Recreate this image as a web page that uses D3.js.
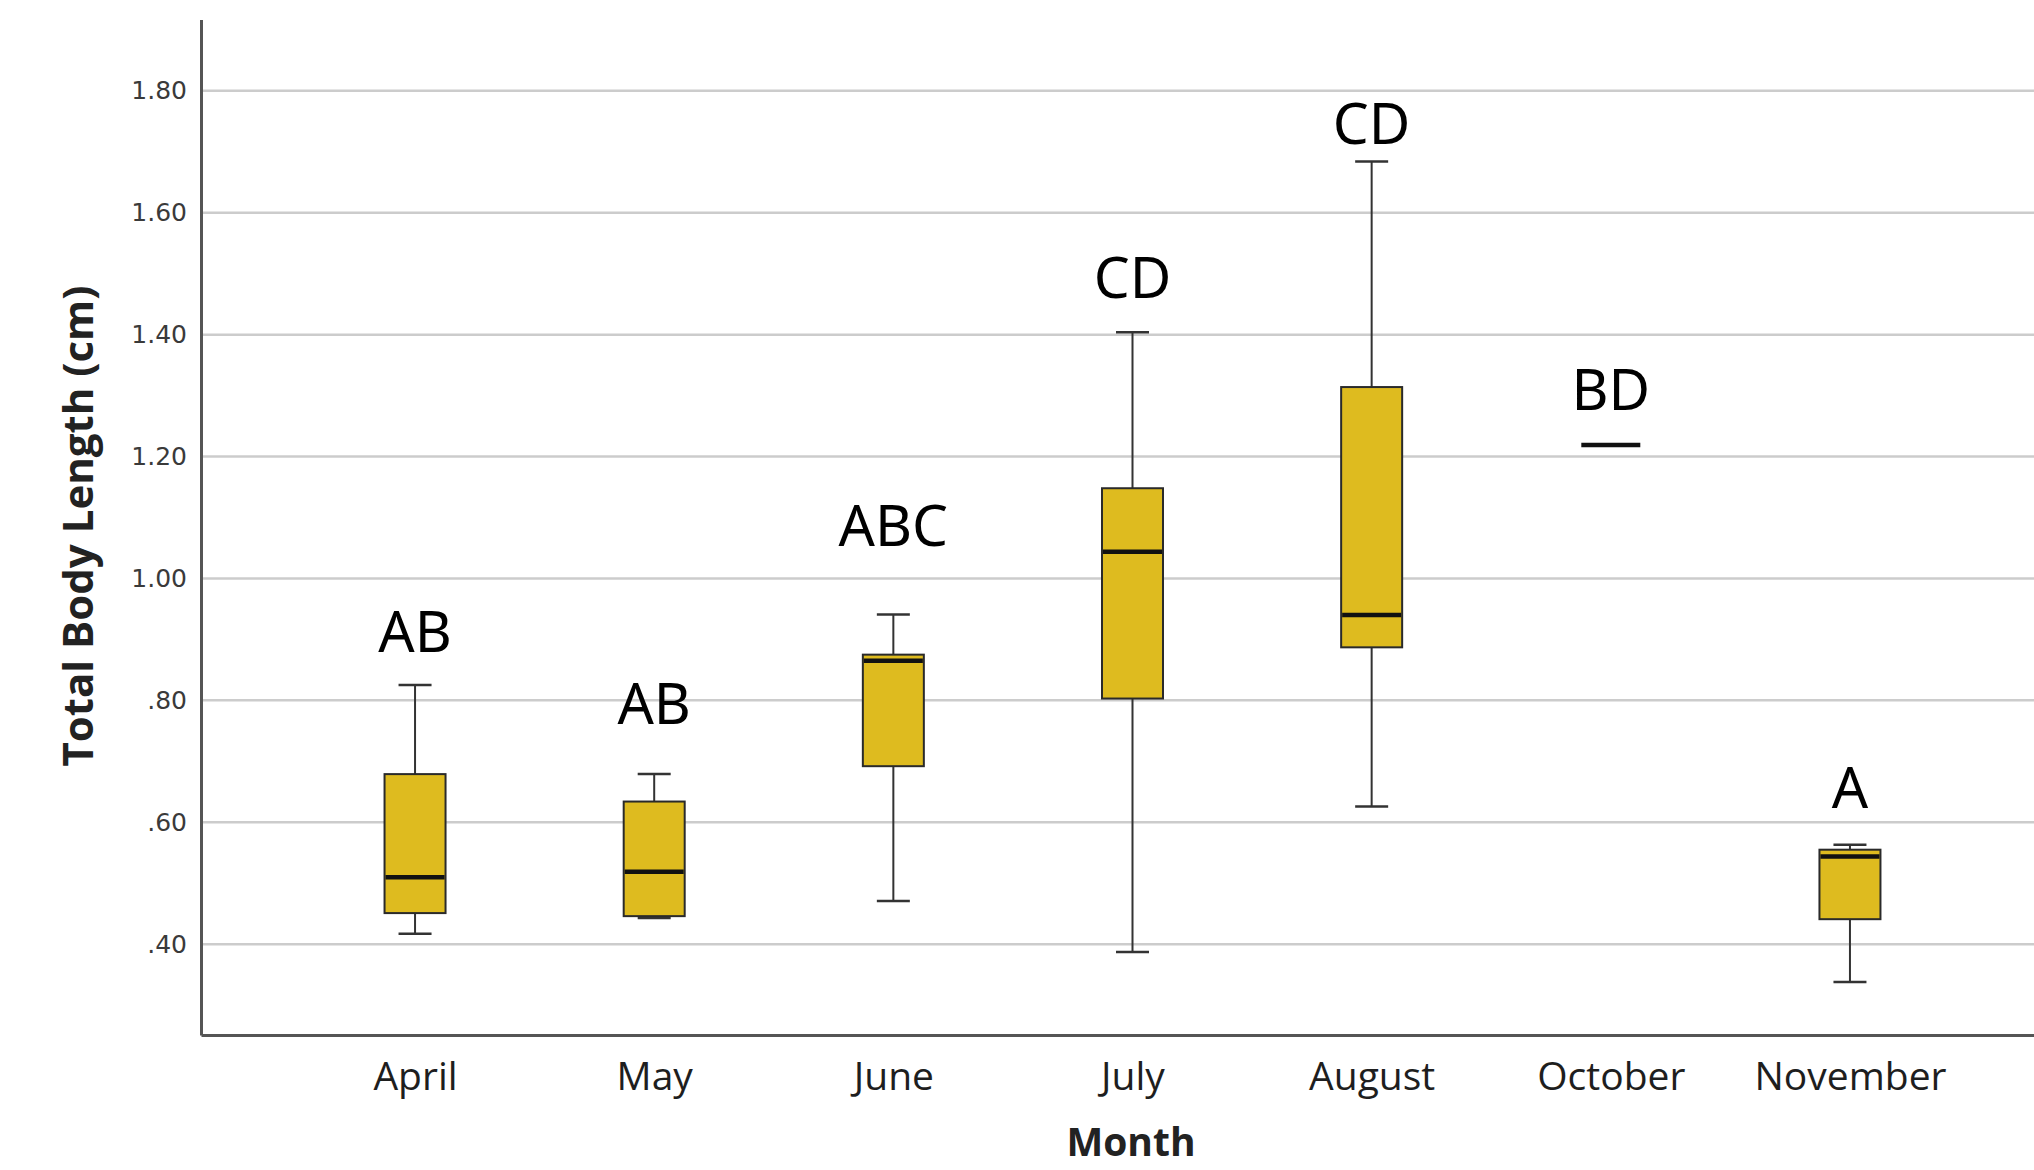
<!DOCTYPE html>
<html>
<head>
<meta charset="utf-8">
<script src="https://cdn.jsdelivr.net/npm/d3@7"></script>
<style>
  body { margin: 0; background: #fff; }
  .yAxis text { font-family: "DejaVu Sans", sans-serif; font-size: 25px; fill: #3a3a3a; }
  .xAxis text { font-family: "Open Sans", sans-serif; font-size: 39px; fill: #1e1e1e; }
  .axisTitle { font-family: "Open Sans", sans-serif; font-weight: bold; fill: #222; }
  .letter { font-family: "Noto Sans", sans-serif; font-size: 57px; fill: #000; }
</style>
</head>
<body>
<div id="chart"></div>
<script>
// box plot values
var months = ["April", "May", "June", "July", "August", "October", "November"];
var whiskerLow  = [0.417, 0.443, 0.471, 0.387, 0.626, 1.219, 0.338];
var q1          = [0.451, 0.446, 0.692, 0.803, 0.887, 1.219, 0.441];
var median      = [0.510, 0.519, 0.865, 1.044, 0.940, 1.219, 0.544];
var q3          = [0.679, 0.634, 0.875, 1.148, 1.314, 1.219, 0.555];
var whiskerHigh = [0.825, 0.679, 0.941, 1.404, 1.684, 1.219, 0.563];

// significance letters and where they sit (in cm)
var letters  = ["AB", "AB", "ABC", "CD", "CD", "BD", "A"];
var letterAt = [0.880, 0.762, 1.054, 1.460, 1.712, 1.276, 0.624];

var yTicks = [0.4, 0.6, 0.8, 1.0, 1.2, 1.4, 1.6, 1.8];

var svgWidth = 2034;
var svgHeight = 1170;

var margin = {
  top: 19.5,
  left: 201,
  bottom: 135
};

var width = 1863;
var height = svgHeight - margin.top - margin.bottom;

var svg = d3.select("#chart")
  .append("svg")
  .attr("width", svgWidth)
  .attr("height", svgHeight);

var chartGroup = svg.append("g")
  .attr("transform", `translate(${margin.left}, ${margin.top})`);

var boxes = months.map(function(m, i) {
  return {
    month: m,
    low: whiskerLow[i],
    q1: q1[i],
    median: median[i],
    q3: q3[i],
    high: whiskerHigh[i],
    letter: letters[i],
    letterAt: letterAt[i]
  };
});

var xScale = d3.scalePoint()
  .domain(months)
  .range([0, width])
  .padding(0.895);

var yScale = d3.scaleLinear()
  .domain([0.251, 1.917])
  .range([height, 0]);

// gridlines
chartGroup.selectAll(".grid")
  .data(yTicks)
  .enter()
  .append("line")
  .attr("class", "grid")
  .attr("x1", 0)
  .attr("x2", width)
  .attr("y1", d => yScale(d))
  .attr("y2", d => yScale(d))
  .attr("stroke", "#cccccc")
  .attr("stroke-width", 2.5);

//axis
var fmt = d3.format(".2f");
var leftAxis = d3.axisLeft(yScale)
  .tickValues(yTicks)
  .tickSize(0)
  .tickPadding(14)
  .tickFormat(d => fmt(d).replace(/^0/, ""));

var bottomAxis = d3.axisBottom(xScale)
  .tickSize(0)
  .tickPadding(27);

chartGroup.append("g")
  .attr("class", "yAxis")
  .call(leftAxis);

chartGroup.append("g")
  .attr("class", "xAxis")
  .attr("transform", `translate(0, ${height})`)
  .call(bottomAxis);

svg.selectAll(".domain")
  .attr("stroke", "#555")
  .attr("stroke-width", 3);

var boxWidth = 61;
var capWidth = 33;

var boxGroup = chartGroup.selectAll(".box")
  .data(boxes)
  .enter()
  .append("g")
  .attr("class", "box")
  .attr("transform", d => `translate(${xScale(d.month)}, 0)`);

// whiskers
boxGroup.append("line")
  .attr("x1", 0).attr("x2", 0)
  .attr("y1", d => yScale(d.low))
  .attr("y2", d => yScale(d.high))
  .attr("stroke", "#333")
  .attr("stroke-width", 2);

boxGroup.selectAll(".cap")
  .data(d => [d.low, d.high])
  .enter()
  .append("line")
  .attr("class", "cap")
  .attr("x1", -capWidth / 2)
  .attr("x2", capWidth / 2)
  .attr("y1", d => yScale(d))
  .attr("y2", d => yScale(d))
  .attr("stroke", "#333")
  .attr("stroke-width", 2.5);

boxGroup.filter(d => d.q3 > d.q1)
  .append("rect")
  .attr("x", -boxWidth / 2)
  .attr("width", boxWidth)
  .attr("y", d => yScale(d.q3))
  .attr("height", d => yScale(d.q1) - yScale(d.q3))
  .attr("fill", "#DEBB1F")
  .attr("stroke", "#2a2a2a")
  .attr("stroke-width", 2);

boxGroup.append("line")
  .attr("x1", -boxWidth / 2 + 1)
  .attr("x2", boxWidth / 2 - 1)
  .attr("y1", d => yScale(d.median))
  .attr("y2", d => yScale(d.median))
  .attr("stroke", "#111")
  .attr("stroke-width", 4.5);

// letters
chartGroup.selectAll(".letter")
  .data(boxes)
  .enter()
  .append("text")
  .attr("class", "letter")
  .attr("text-anchor", "middle")
  .attr("x", d => xScale(d.month))
  .attr("y", d => yScale(d.letterAt))
  .text(d => d.letter);

//axes labels
svg.append("text")
  .attr("class", "axisTitle")
  .attr("transform", "translate(93, 526) rotate(-90)")
  .attr("text-anchor", "middle")
  .style("font-size", "42px")
  .text("Total Body Length (cm)");

svg.append("text")
  .attr("class", "axisTitle")
  .attr("x", 1131)
  .attr("y", 1156)
  .attr("text-anchor", "middle")
  .style("font-size", "39px")
  .text("Month");
</script>
</body>
</html>
